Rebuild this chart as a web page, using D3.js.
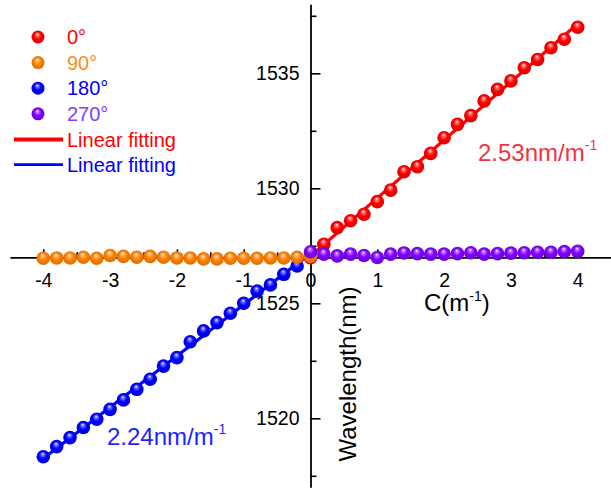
<!DOCTYPE html>
<html>
<head>
<meta charset="utf-8">
<script src="https://cdn.jsdelivr.net/npm/d3@7"></script>
<style>
  body { margin: 0; background: #fff; }
  text { font-family: Arial, 'Liberation Sans', sans-serif; }
</style>
</head>
<body>
<div id="wrapper"></div>
<script>
// curvature values (m^-1)
const xPos = [0, 0.2, 0.4, 0.6, 0.8, 1.0, 1.2, 1.4, 1.6, 1.8, 2.0, 2.2, 2.4, 2.6, 2.8, 3.0, 3.2, 3.4, 3.6, 3.8, 4.0];
const xNeg = [-4.0, -3.8, -3.6, -3.4, -3.2, -3.0, -2.8, -2.6, -2.4, -2.2, -2.0, -1.8, -1.6, -1.4, -1.2, -1.0, -0.8, -0.6, -0.4, -0.2, 0];

// wavelengths (nm)
const wl0 = [1526.98, 1527.57, 1528.29, 1528.59, 1528.87, 1529.42, 1529.92, 1530.72, 1530.94, 1531.52, 1532.2,
             1532.78, 1533.16, 1533.8, 1534.3, 1534.67, 1535.24, 1535.6, 1536.11, 1536.48, 1537.0];
const wl90 = [1526.96, 1526.97, 1526.97, 1527.0, 1526.96, 1527.08, 1527.04, 1527.0, 1527.04, 1527.0, 1526.97,
              1526.97, 1526.93, 1526.93, 1526.96, 1526.96, 1526.96, 1526.97, 1526.97, 1527.0, 1527.04];
const wl180 = [1518.33, 1518.77, 1519.16, 1519.6, 1519.96, 1520.39, 1520.8, 1521.26, 1521.7, 1522.27, 1522.64,
               1523.33, 1523.8, 1524.16, 1524.57, 1525.0, 1525.53, 1525.8, 1526.26, 1526.62, 1527.0];
const wl270 = [1527.24, 1527.14, 1527.06, 1527.14, 1527.08, 1526.99, 1527.14, 1527.19, 1527.16, 1527.14, 1527.14,
               1527.16, 1527.2, 1527.14, 1527.16, 1527.18, 1527.2, 1527.22, 1527.22, 1527.25, 1527.26];

const legendLabels = ['0°', '90°', '180°', '270°'];
const fitLabels = ['Linear fitting', 'Linear fitting'];
const sensLabels = ['2.53nm/m', '2.24nm/m'];
const xTicks = [-4, -3, -2, -1, 0, 1, 2, 3, 4];
const xMinor = [-3.5, -2.5, -1.5, -0.5, 0.5, 1.5, 2.5, 3.5];
const yTicks = [1520, 1525, 1530, 1535];
const yMinor = [1517.5, 1522.5, 1527.5, 1532.5, 1537.5];

const colors = { red: '#ff0000', orange: '#ff8000', blue: '#0000ff', purple: '#8000ff' };

const width = 611, height = 489;

const svg = d3.select('#wrapper').append('svg')
    .attr('width', width)
    .attr('height', height);

const xScale = d3.scaleLinear().domain([-4.5, 4.5]).range([9.9, 611.1]);
const yScale = d3.scaleLinear().domain([1517, 1538]).range([487.3, 4.3]);
const xCross = 1527;

// sphere-like gradients
const defs = svg.append('defs');
const shade = (c, k) => d3.color(c).darker(k).formatHex();
Object.entries(colors).forEach(([name, c]) => {
  const g = defs.append('radialGradient')
      .attr('id', 'ball-' + name)
      .attr('cx', '50%').attr('cy', '50%').attr('r', '55%')
      .attr('fx', '45%').attr('fy', '28%');
  g.append('stop').attr('offset', '0%').attr('stop-color', '#ffffff');
  g.append('stop').attr('offset', '18%').attr('stop-color', d3.interpolateRgb('#ffffff', c)(0.55));
  g.append('stop').attr('offset', '50%').attr('stop-color', c);
  g.append('stop').attr('offset', '100%').attr('stop-color', shade(c, 0.5));
});

// axes
const yAxisG = svg.append('g')
    .attr('transform', `translate(${xScale(0)},0)`)
    .call(d3.axisLeft(yScale).tickValues(yTicks).tickSizeInner(-10).tickSizeOuter(0).tickPadding(11).tickFormat(d3.format('d')));
const xAxisG = svg.append('g')
    .attr('transform', `translate(0,${yScale(xCross)})`)
    .call(d3.axisBottom(xScale).tickValues(xTicks).tickSizeInner(-8).tickSizeOuter(0).tickPadding(16).tickFormat(d3.format('d')));

svg.selectAll('.tick text')
    .attr('font-size', 19.5)
    .attr('font-family', "Arial, 'Liberation Sans', sans-serif")
    .attr('fill', '#000');
xAxisG.selectAll('.tick text').text(d => d < 0 ? '-' + Math.abs(d) : d);

yAxisG.append('g').call(d3.axisLeft(yScale).tickValues(yMinor)
    .tickSizeInner(-6).tickSizeOuter(0).tickFormat(''))
  .select('.domain').remove();
xAxisG.append('g').call(d3.axisBottom(xScale).tickValues(xMinor)
    .tickSizeInner(-5).tickSizeOuter(0).tickFormat(''))
  .select('.domain').remove();

svg.selectAll('.domain').attr('stroke', '#000').attr('stroke-width', 1.8);
svg.selectAll('.tick line').attr('stroke', '#000').attr('stroke-width', 1.6);

// axis titles
const cLabel = svg.append('text')
    .attr('x', 424).attr('y', 311)
    .attr('font-size', 24);
cLabel.append('tspan').text('C(m');
cLabel.append('tspan').attr('dy', -10).attr('font-size', 14).text('-1');
cLabel.append('tspan').attr('dy', 10).text(')');

svg.append('text')
    .attr('transform', `translate(356,374) rotate(-90)`)
    .attr('text-anchor', 'middle')
    .attr('font-size', 24)
    .text('Wavelength(nm)');

// linear fits
function fit(xs, ys) {
  const mx = d3.mean(xs), my = d3.mean(ys);
  const b = d3.sum(xs, (x, i) => (x - mx) * (ys[i] - my)) / d3.sum(xs, x => (x - mx) * (x - mx));
  return x => my + b * (x - mx);
}
const fit0 = fit(xPos, wl0);
const fit180 = fit(xNeg, wl180);

const line = d3.line().x(d => xScale(d[0])).y(d => yScale(d[1]));

svg.append('path')
    .attr('d', line(d3.extent(xNeg).map(x => [x, fit180(x)])))
    .attr('stroke', colors.blue).attr('stroke-width', 3.2).attr('fill', 'none');
svg.append('path')
    .attr('d', line(d3.extent(xPos).map(x => [x, fit0(x)])))
    .attr('stroke', colors.red).attr('stroke-width', 3.2).attr('fill', 'none');

function dots(xs, ys, name) {
  svg.append('g').selectAll('circle')
    .data(xs.map((x, i) => [x, ys[i]]))
    .join('circle')
      .attr('cx', d => xScale(d[0]))
      .attr('cy', d => yScale(d[1]))
      .attr('r', 6.8)
      .attr('fill', `url(#ball-${name})`);
}
dots(xNeg, wl180, 'blue');
dots(xPos, wl0, 'red');
dots(xNeg, wl90, 'orange');
dots(xPos, wl270, 'purple');

// sensitivity labels
function sens(x, y, txt, color) {
  const t = svg.append('text').attr('x', x).attr('y', y).attr('font-size', 24).attr('fill', color);
  t.append('tspan').text(txt);
  t.append('tspan').attr('dy', -11).attr('font-size', 14).text('-1');
}
sens(478, 161, sensLabels[0], '#f5333f');
sens(107, 445, sensLabels[1], '#1f1fff');

// legend
const legendNames = ['red', 'orange', 'blue', 'purple'];
const legendText = ['#ff0000', '#ff8c1a', '#0000ff', '#7f3fff'];
const legend = svg.append('g');
legendLabels.forEach((lab, i) => {
  const y = 37 + i * 25.6;
  legend.append('circle').attr('cx', 38).attr('cy', y).attr('r', 6.5)
      .attr('fill', `url(#ball-${legendNames[i]})`);
  legend.append('text').attr('x', 67).attr('y', y + 7).attr('font-size', 20)
      .attr('fill', legendText[i]).text(lab);
});
const fitColors = [colors.red, colors.blue];
fitLabels.forEach((lab, i) => {
  const y = 139.5 + i * 25.2;
  legend.append('line').attr('x1', 14).attr('x2', 63).attr('y1', y).attr('y2', y)
      .attr('stroke', fitColors[i]).attr('stroke-width', i === 0 ? 4 : 2.8);
  legend.append('text').attr('x', 67).attr('y', y + 7).attr('font-size', 20)
      .attr('fill', fitColors[i]).text(lab);
});
</script>
</body>
</html>
